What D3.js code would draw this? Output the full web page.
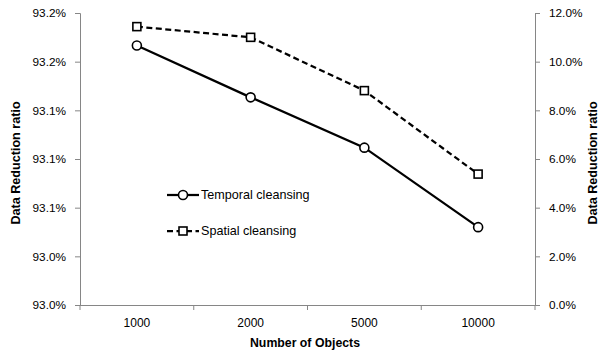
<!DOCTYPE html>
<html>
<head>
<meta charset="utf-8">
<script src="https://cdn.jsdelivr.net/npm/d3@7"></script>
<style>
  body { margin: 0; background: #fff; }
  text { font-family: "Liberation Sans", Arial, sans-serif; fill: #000; }
</style>
</head>
<body>
<div id="chart"></div>
<script>
const categories = ["1000", "2000", "5000", "10000"]
const temporal = [93.160, 93.128, 93.097, 93.048]   // left axis, %
const spatial = [11.44, 11.0, 8.81, 5.38]            // right axis, %
const leftTicks = [93.00, 93.03, 93.06, 93.09, 93.12, 93.15, 93.18]
const leftLabels = ["93.0%", "93.0%", "93.1%", "93.1%", "93.1%", "93.2%", "93.2%"]
const rightTicks = [0, 2, 4, 6, 8, 10, 12]

const width = 599, height = 351
const m = { left: 80, right: 64, top: 13, bottom: 46 }

const svg = d3.select("#chart").append("svg").attr("width", width).attr("height", height)

const x = d3.scaleBand().domain(categories).range([m.left, width - m.right])
const yL = d3.scaleLinear().domain([93.00, 93.18]).range([height - m.bottom, m.top])
const yR = d3.scaleLinear().domain([0, 12]).range([height - m.bottom, m.top])

const axisColor = "#868686"

// left axis
const gL = svg.append("g").attr("transform", `translate(${m.left},0)`)
    .call(d3.axisLeft(yL).tickValues(leftTicks).tickSize(5).tickPadding(9)
        .tickFormat((d, i) => leftLabels[i]))
// right axis
const gR = svg.append("g").attr("transform", `translate(${width - m.right},0)`)
    .call(d3.axisRight(yR).tickValues(rightTicks).tickSize(5).tickPadding(9)
        .tickFormat(d => d.toFixed(1) + "%"))
// x axis
const gX = svg.append("g").attr("transform", `translate(0,${height - m.bottom})`)
    .call(d3.axisBottom(x).tickSize(0).tickPadding(13))

// category boundary ticks
svg.append("g").selectAll("line")
    .data(d3.range(categories.length + 1))
    .join("line")
    .attr("x1", i => m.left + i * x.step())
    .attr("x2", i => m.left + i * x.step())
    .attr("y1", height - m.bottom)
    .attr("y2", height - m.bottom + 5)
    .attr("stroke", axisColor)

for (const g of [gL, gR, gX]) {
    g.select(".domain").attr("stroke", axisColor)
    g.selectAll(".tick line").attr("stroke", axisColor)
    g.selectAll("text").style("font-size", "11.8px").style("font-family", "Liberation Sans, Arial, sans-serif")
}
gX.selectAll("text").style("font-size", "12px")
gX.selectAll(".domain").attr("d", `M${m.left},0.5H${width - m.right}`)

const cx = d => x(d) + x.bandwidth() / 2

// temporal series
svg.append("path")
    .datum(temporal)
    .attr("fill", "none").attr("stroke", "#000").attr("stroke-width", 2.25)
    .attr("d", d3.line().x((d, i) => cx(categories[i])).y(d => yL(d)))
svg.append("g").selectAll("circle")
    .data(temporal)
    .join("circle")
    .attr("cx", (d, i) => cx(categories[i]))
    .attr("cy", d => yL(d))
    .attr("r", 4.5)
    .attr("fill", "#fff").attr("stroke", "#000").attr("stroke-width", 1.6)

// spatial series
svg.append("path")
    .datum(spatial)
    .attr("fill", "none").attr("stroke", "#000").attr("stroke-width", 2.25)
    .attr("stroke-dasharray", "6,3.5")
    .attr("d", d3.line().x((d, i) => cx(categories[i])).y(d => yR(d)))
svg.append("g").selectAll("rect")
    .data(spatial)
    .join("rect")
    .attr("x", (d, i) => cx(categories[i]) - 4)
    .attr("y", d => yR(d) - 4)
    .attr("width", 8).attr("height", 8)
    .attr("fill", "#fff").attr("stroke", "#000").attr("stroke-width", 1.6)

// legend
const legend = svg.append("g").attr("transform", "translate(167,195)")
legend.append("line").attr("x1", 0).attr("x2", 32).attr("stroke", "#000").attr("stroke-width", 2.25)
legend.append("circle").attr("cx", 16).attr("r", 4.5).attr("fill", "#fff").attr("stroke", "#000").attr("stroke-width", 1.6)
legend.append("text").attr("x", 34).attr("dy", "0.35em").style("font-size", "12.6px").text("Temporal cleansing")

const legend2 = svg.append("g").attr("transform", "translate(167,231)")
legend2.append("line").attr("x1", 0).attr("x2", 32).attr("stroke", "#000").attr("stroke-width", 2.25)
    .attr("stroke-dasharray", "6,3.5")
legend2.append("rect").attr("x", 12).attr("y", -4).attr("width", 8).attr("height", 8)
    .attr("fill", "#fff").attr("stroke", "#000").attr("stroke-width", 1.6)
legend2.append("text").attr("x", 34).attr("dy", "0.35em").style("font-size", "12.6px").text("Spatial cleansing")

// axis titles
svg.append("text")
    .attr("transform", `translate(20,163) rotate(-90)`)
    .attr("text-anchor", "middle")
    .style("font-size", "12.6px").style("font-weight", "bold")
    .text("Data Reduction ratio")
svg.append("text")
    .attr("transform", `translate(597,163) rotate(-90)`)
    .attr("text-anchor", "middle")
    .style("font-size", "12.6px").style("font-weight", "bold")
    .text("Data Reduction ratio")
svg.append("text")
    .attr("x", 305)
    .attr("y", 347)
    .attr("text-anchor", "middle")
    .style("font-size", "12.3px").style("font-weight", "bold")
    .text("Number of Objects")
</script>
</body>
</html>
